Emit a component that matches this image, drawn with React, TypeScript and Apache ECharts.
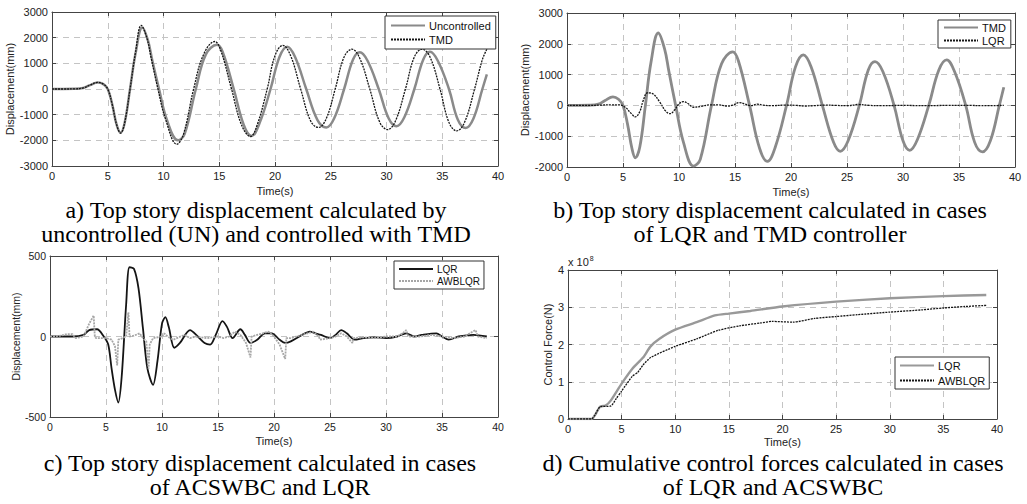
import React, { useEffect, useRef } from 'react';
import * as echarts from 'echarts';

type P = [number, number][];

// ---- Panel a: Uncontrolled vs TMD (displacement, mm) ----
const aUncontrolled: P = [
  [0, 0], [1, 0], [2, 5], [2.8, 40], [3.4, 150], [4.1, 250], [4.6, 190], [5.0, 0], [5.4, -600], [5.8, -1400],
  [6.15, -1700], [6.5, -1350], [7.0, 0], [7.5, 1400], [8.1, 2400], [8.6, 1900], [9.0, 1100], [9.6, 0],
  [10.3, -1200], [11.3, -2000], [11.9, -1750], [12.9, 0], [13.8, 1350], [14.8, 1720], [15.3, 1450], [16.3, 0],
  [17.2, -1400], [17.9, -1830], [18.6, -1350], [19.6, 0], [20.4, 1250], [21.1, 1650], [21.8, 1250], [22.8, 0],
  [23.8, -1200], [24.6, -1500], [25.3, -1150], [26.2, 0], [27.0, 1150], [27.6, 1430], [28.3, 1100], [29.3, 0],
  [30.2, -1150], [30.9, -1450], [31.6, -1100], [32.5, 0], [33.3, 1150], [33.9, 1450], [34.6, 1100], [35.6, 0],
  [36.4, -1200], [37.1, -1520], [37.8, -1150], [38.6, 0], [39.0, 570],
];
const aTMD: P = [
  [0, 0], [1, 0], [2, 5], [2.8, 40], [3.4, 150], [4.1, 260], [4.6, 190], [5.0, 0], [5.4, -600], [5.8, -1400],
  [6.15, -1720], [6.5, -1350], [7.0, 0], [7.5, 1450], [8.0, 2480], [8.5, 2000], [8.9, 1200], [9.5, 0],
  [10.2, -1200], [11.2, -2150], [11.8, -1750], [12.7, 0], [13.6, 1350], [14.6, 1850], [15.1, 1550], [16.1, 0],
  [17.0, -1400], [17.8, -1850], [18.4, -1400], [19.3, 0], [20.0, 1300], [20.7, 1700], [21.4, 1300], [22.3, 0],
  [23.2, -1250], [23.9, -1500], [24.6, -1150], [25.4, 0], [26.2, 1250], [26.9, 1550], [27.6, 1200], [28.5, 0],
  [29.4, -1300], [30.1, -1580], [30.8, -1250], [31.7, 0], [32.5, 1250], [33.2, 1550], [33.9, 1250], [34.8, 0],
  [35.6, -1300], [36.3, -1630], [37.0, -1300], [37.9, 0], [38.6, 1150], [39.0, 1550],
];

// ---- Panel b: TMD vs LQR ----
const bTMD: P = [
  [0, 0], [1, 0], [2, 5], [2.8, 40], [3.4, 160], [4.1, 280], [4.6, 200], [5.0, 0], [5.4, -600], [5.8, -1400],
  [6.1, -1700], [6.5, -1350], [7.0, 0], [7.5, 1400], [8.15, 2350], [8.7, 1850], [9.1, 1100], [9.7, 0],
  [10.4, -1200], [11.3, -1970], [11.9, -1750], [12.9, 0], [13.8, 1350], [14.8, 1740], [15.3, 1450], [16.3, 0],
  [17.2, -1400], [17.9, -1820], [18.6, -1350], [19.6, 0], [20.4, 1250], [21.1, 1640], [21.8, 1250], [22.8, 0],
  [23.8, -1200], [24.4, -1490], [25.1, -1150], [26.1, 0], [26.9, 1150], [27.5, 1420], [28.2, 1100], [29.2, 0],
  [30.0, -1150], [30.6, -1460], [31.3, -1100], [32.3, 0], [33.2, 1150], [33.9, 1480], [34.6, 1100], [35.6, 0],
  [36.4, -1200], [37.1, -1510], [37.8, -1150], [38.6, 0], [39.0, 590],
];
const bLQR: P = [
  [0, 0], [2, 0], [3, 10], [4, 20], [4.6, 20], [5.2, -60], [5.7, -250], [6.1, -370], [6.5, -200], [6.8, 150],
  [7.2, 410], [7.7, 370], [8.3, 100], [8.8, -180], [9.2, -270], [9.6, -150], [10.0, 50], [10.4, 120], [10.8, 60],
  [11.3, -60], [12, -30], [12.8, 20], [13.5, 20], [14.3, -20], [14.8, 10], [15.4, 90], [15.9, 40], [16.4, -10],
  [17.0, 40], [17.5, 10], [18.2, -10], [19.5, 10], [20.5, 0], [21.2, -20], [22, -10], [23, 10], [24, 0],
  [25, -10], [26, 30], [27, 0], [28, -10], [30, 0], [32, -10], [34, 0], [36, 0], [37, -10], [39, 0],
];

// ---- Panel c: LQR vs AWBLQR ----
const cLQR: P = [
  [0, 0], [2, 0], [3, 10], [3.5, 40], [4.2, 45], [4.8, 0], [5.2, -50], [5.5, -200], [5.8, -330], [6.1, -410],
  [6.4, -250], [6.8, 200], [7.1, 430], [7.5, 420], [7.9, 300], [8.3, 50], [8.7, -200], [9.2, -300], [9.6, -150],
  [10.0, 80], [10.3, 120], [10.6, 60], [11.1, -70], [11.6, -40], [12.5, 40], [13.2, 0], [13.8, -40], [14.3, -50],
  [14.8, 10], [15.4, 95], [15.8, 60], [16.3, -10], [17.0, 45], [17.4, 10], [17.9, -40], [18.5, -20], [19.2, 20],
  [19.8, 20], [20.5, -20], [21, -40], [21.5, -30], [22.5, 10], [23.2, 30], [23.7, 20], [24.2, 10], [25, -10],
  [25.5, 10], [26.0, 40], [26.5, 20], [27.2, -20], [28, -10], [29, -5], [30, -10], [31, 0], [31.8, 20],
  [32.5, 0], [33.2, 10], [34.5, 20], [35, 0], [35.6, -20], [36.5, 0], [37.8, 10], [39, 0],
];
const cAWBLQR: P = [
  [0, 0], [1, 5], [1.5, 15], [2, 15], [2.3, -10], [3, 0], [3.5, 80], [3.9, 130], [4.0, 0], [4.1, -10], [5, -10],
  [5.5, -20], [5.8, -60], [6.0, -180], [6.1, -20], [6.5, -10], [6.8, 0], [7.0, 150], [7.1, 0], [7.5, 5], [8.0, 20],
  [8.3, -10], [8.6, -30], [8.8, -200], [8.9, -50], [9.2, -10], [10, 0], [10.2, 20], [10.5, 0], [11, -20],
  [12, 10], [12.5, -10], [13, 0], [14, -10], [15, 0], [15.5, -10], [16, 0], [16.5, 30], [17, 10], [17.5, -40],
  [17.9, -130], [18.0, 0], [18.5, 10], [19, 20], [19.5, 30], [20, 0], [20.5, -50], [21.0, -140], [21.1, -10],
  [21.5, -10], [22, 0], [23, 20], [23.5, 30], [24, 0], [24.1, -20], [25, -10], [25.5, 0], [26, 20], [26.5, 0],
  [27, -40], [27.1, -10], [28, -5], [29, -10], [30, 0], [31, 0], [31.5, 20], [31.8, 40], [32, 0], [33, 0],
  [34, 10], [35, 0], [36, -10], [37, 0], [37.5, 20], [38, 40], [38.2, 0], [39, -10],
];

// ---- Panel d: cumulative control force (x 10^8 N) ----
const dLQR: P = [
  [0, 0], [2.2, 0], [2.5, 0.1], [3, 0.33], [3.5, 0.36], [4, 0.5], [5, 0.95], [6, 1.35], [7, 1.65], [7.7, 1.95],
  [8.5, 2.15], [10, 2.4], [12, 2.6], [13.7, 2.78], [15, 2.83], [17, 2.9], [20, 3.02], [25, 3.15], [30, 3.24],
  [35, 3.3], [39, 3.33],
];
const dAWBLQR: P = [
  [0, 0], [2.2, 0], [2.5, 0.1], [3, 0.33], [4, 0.35], [4.5, 0.55], [5, 0.75], [6, 1.15], [6.5, 1.25], [7, 1.45],
  [7.7, 1.65], [10, 1.95], [12, 2.15], [14, 2.38], [16, 2.5], [18, 2.58], [19, 2.62], [21, 2.6], [23, 2.7],
  [25, 2.75], [27, 2.8], [30, 2.87], [33, 2.93], [35, 2.98], [37, 3.02], [39, 3.05],
];

const captions: string[] = [
  'a) Top story displacement calculated by\nuncontrolled (UN) and controlled with TMD',
  'b) Top story displacement calculated in cases\nof LQR and TMD controller',
  'c) Top story displacement calculated in cases\nof ACSWBC and LQR',
  'd) Cumulative control forces calculated in cases\nof LQR and ACSWBC',
];

const SANS = '"Liberation Sans", Arial, sans-serif';
const SERIF = '"Liberation Serif", "Times New Roman", serif';

const panels = [
  { left: 52, top: 12, width: 446, height: 154, yMin: -3000, yMax: 3000, yInt: 1000, yName: 'Displacement(mm)', yNameGap: 35, xNameGap: 19, fs: 11 },
  { left: 567, top: 13, width: 448, height: 154, yMin: -2000, yMax: 3000, yInt: 1000, yName: 'Displacement(mm)', yNameGap: 35, xNameGap: 19, fs: 11 },
  { left: 50, top: 256, width: 448, height: 161, yMin: -500, yMax: 500, yInt: 500, yName: 'Displacement(mm)', yNameGap: 28, xNameGap: 18, fs: 10.5 },
  { left: 568, top: 270, width: 429, height: 149, yMin: 0, yMax: 4, yInt: 1, yName: 'Control Force(N)', yNameGap: 13, xNameGap: 17, fs: 11 },
];

const AX = '#444';
const GRIDC = '#c4c4c4';

export default function App() {
  const ref = useRef<HTMLDivElement>(null);
  useEffect(() => {
    if (!ref.current) return;
    const chart = echarts.init(ref.current, undefined, { renderer: 'svg' });
    const grid: any[] = [];
    const xAxis: any[] = [];
    const yAxis: any[] = [];
    const fmt = (v: number) => String(v);
    panels.forEach((p, i) => {
      grid.push({ left: p.left, top: p.top, width: p.width, height: p.height, show: false });
      const split = { show: true, lineStyle: { color: GRIDC, type: [6, 5], width: 1 } };
      const tick = { show: true, inside: true, length: 4, lineStyle: { color: AX } };
      xAxis.push({
        type: 'value', gridIndex: i, min: 0, max: 40, interval: 5, position: 'bottom',
        axisLine: { show: true, onZero: false, lineStyle: { color: AX } },
        axisTick: tick, splitLine: split,
        axisLabel: { margin: 4, fontSize: p.fs, color: '#222', fontFamily: SANS, formatter: fmt },
        name: 'Time(s)', nameLocation: 'middle', nameGap: p.xNameGap,
        nameTextStyle: { fontSize: 11, color: '#222', fontFamily: SANS },
      });
      xAxis.push({
        type: 'value', gridIndex: i, min: 0, max: 40, interval: 5, position: 'top',
        axisLine: { show: true, onZero: false, lineStyle: { color: AX } },
        axisTick: tick, splitLine: { show: false }, axisLabel: { show: false },
      });
      yAxis.push({
        type: 'value', gridIndex: i, min: p.yMin, max: p.yMax, interval: p.yInt, position: 'left',
        axisLine: { show: true, onZero: false, lineStyle: { color: AX } },
        axisTick: tick, splitLine: split,
        axisLabel: { margin: 4, fontSize: p.fs, color: '#222', fontFamily: SANS, formatter: fmt },
        name: p.yName, nameLocation: 'middle', nameGap: p.yNameGap, nameRotate: 90,
        nameTextStyle: { fontSize: p.fs, color: '#222', fontFamily: SANS },
      });
      yAxis.push({
        type: 'value', gridIndex: i, min: p.yMin, max: p.yMax, interval: p.yInt, position: 'right',
        axisLine: { show: true, onZero: false, lineStyle: { color: AX } },
        axisTick: tick, splitLine: { show: false }, axisLabel: { show: false },
      });
    });

    const mk = (name: string, i: number, data: P, color: string, width: number, type: any, smooth: number | boolean, z = 2) => ({
      type: 'line', name, xAxisIndex: 2 * i, yAxisIndex: 2 * i, data, smooth, symbol: 'none', showSymbol: false, z,
      lineStyle: { color, width, type }, itemStyle: { color },
    });
    const GRAY = '#8a8a8a';
    const BLACK = '#151515';
    const series = [
      mk('a_Uncontrolled', 0, aUncontrolled, GRAY, 2.5, 'solid', 0.4, 2),
      mk('a_TMD', 0, aTMD, BLACK, 1.3, [2, 1], 0.4, 3),
      mk('b_TMD', 1, bTMD, GRAY, 2.8, 'solid', 0.4, 2),
      mk('b_LQR', 1, bLQR, BLACK, 1.3, [2, 1], 0.4, 3),
      mk('c_LQR', 2, cLQR, BLACK, 1.8, 'solid', 0.3, 2),
      mk('c_AWBLQR', 2, cAWBLQR, '#a6a6a6', 1.8, [2, 1], false, 3),
      mk('d_LQR', 3, dLQR, '#999999', 2.4, 'solid', 0.2, 2),
      mk('d_AWBLQR', 3, dAWBLQR, BLACK, 1.3, [2, 1], 0.2, 3),
    ];

    const legBase = {
      orient: 'vertical', itemWidth: 34, itemHeight: 12, itemGap: 3, padding: [4, 5, 4, 5],
      borderColor: '#333', borderWidth: 1, backgroundColor: '#fff', selectedMode: false,
      itemStyle: { opacity: 0 },
      formatter: (n: string) => n.slice(2),
      textStyle: { fontSize: 11, fontFamily: SANS, color: '#111', padding: [0, 0, 0, -1] },
    };
    const legend = [
      { ...legBase, left: 385, top: 16, data: ['a_Uncontrolled', 'a_TMD'] },
      { ...legBase, left: 938, top: 20, padding: [2, 5, 2, 5], itemGap: 2, data: ['b_TMD', 'b_LQR'] },
      { ...legBase, left: 394, top: 261, padding: [3, 4, 3, 4], itemGap: 2, data: ['c_LQR', 'c_AWBLQR'], textStyle: { ...legBase.textStyle, fontSize: 10 } },
      { ...legBase, left: 895, top: 357, padding: [3, 4, 3, 4], itemGap: 4, data: ['d_LQR', 'd_AWBLQR'] },
    ];

    const capX = [256, 770, 260, 773];
    const capY = [222, 222, 475, 475];
    const graphic: any[] = [];
    captions.forEach((c, i) => {
      graphic.push({
        type: 'text', x: capX[i], y: capY[i], silent: true,
        style: { text: c, font: `24px ${SERIF}`, lineHeight: 23.5, fill: '#000', align: 'center', textAlign: 'center', verticalAlign: 'middle', textVerticalAlign: 'middle' },
      });
    });
    graphic.push({
      type: 'text', x: 568, y: 262, silent: true,
      style: {
        text: '{a|x 10}{s|8}', textVerticalAlign: 'middle', verticalAlign: 'middle',
        rich: {
          a: { fontSize: 11, fontFamily: SANS, fill: '#222', color: '#222' },
          s: { fontSize: 7, fontFamily: SANS, fill: '#222', color: '#222', verticalAlign: 'top', padding: [0, 0, 8, 1] },
        },
      },
    });

    chart.setOption({
      animation: false,
      backgroundColor: '#fff',
      grid, xAxis, yAxis, series, legend, graphic,
    });
    return () => chart.dispose();
  }, []);
  return <div ref={ref} style={{ position: 'absolute', left: 0, top: 0, width: 1027, height: 504 }} />;
}
